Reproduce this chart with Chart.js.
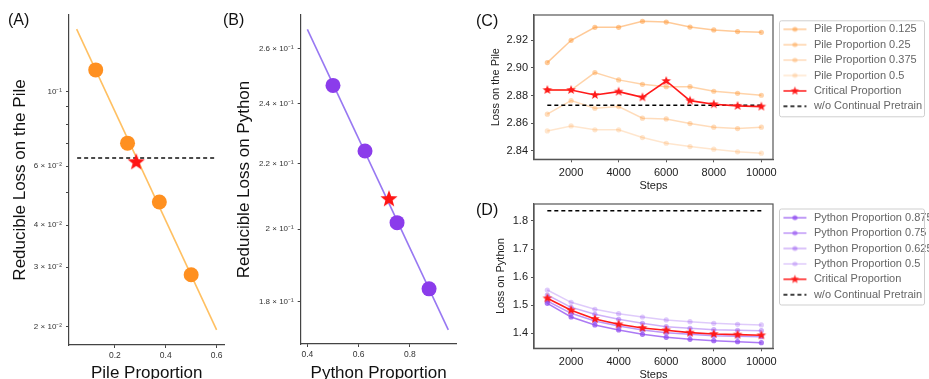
<!DOCTYPE html>
<html><head><meta charset="utf-8">
<script src="https://cdn.jsdelivr.net/npm/chart.js@4.4.1/dist/chart.umd.min.js"></script>
<style>
html,body{margin:0;padding:0;background:#fff;width:929px;height:379px;overflow:hidden;position:relative;font-family:"Liberation Sans",Arial,sans-serif;}
canvas{position:absolute;}
.lab{position:absolute;font-size:16px;line-height:16px;color:#111;white-space:nowrap;}
</style></head><body>
<canvas id="cA" width="232" height="395" style="left:0;top:0"></canvas>
<canvas id="cB" width="240" height="395" style="left:224px;top:0"></canvas>
<canvas id="cC" width="465" height="195" style="left:464px;top:0"></canvas>
<canvas id="cD" width="465" height="190" style="left:464px;top:195px"></canvas>
<div class="lab" style="left:8px;top:12px">(A)</div>
<div class="lab" style="left:223px;top:12px">(B)</div>
<div class="lab" style="left:476px;top:13px">(C)</div>
<div class="lab" style="left:476px;top:202px">(D)</div>
<script>
// ---------------- DATA ----------------
// Panel A
const pileProportions = [0.125, 0.25, 0.375, 0.5];
const pileReducibleLoss = [0.116, 0.0702, 0.0469, 0.0285];
const pileFitX = [0.05, 0.6];
const pileFitY = [0.1534, 0.01953];
const pileCriticalX = [0.284];
const pileCriticalY = [0.0616];
const pileBaselineX = [0.052, 0.593];
const pileBaselineY = [0.0634, 0.0634];
const pileXTicks = [0.2, 0.4, 0.6];
const pileYTicks = [0.02, 0.03, 0.04, 0.05, 0.06, 0.07, 0.08, 0.09, 0.1];
const pileYTickLabels = ['2 × 10⁻²', '3 × 10⁻²', '4 × 10⁻²', '', '6 × 10⁻²', '', '', '', '10⁻¹'];

// Panel B
const pythonProportions = [0.5, 0.625, 0.75, 0.875];
const pythonReducibleLoss = [0.2464, 0.2240, 0.2019, 0.1834];
const pythonFitX = [0.4, 0.95];
const pythonFitY = [0.2673, 0.1728];
const pythonCriticalX = [0.7185];
const pythonCriticalY = [0.2089];
const pythonXTicks = [0.4, 0.6, 0.8];
const pythonYTicks = [0.18, 0.2, 0.22, 0.24, 0.26];
const pythonYTickLabels = ['1.8 × 10⁻¹', '2 × 10⁻¹', '2.2 × 10⁻¹', '2.4 × 10⁻¹', '2.6 × 10⁻¹'];

// Panel C
const steps = [1000, 2000, 3000, 4000, 5000, 6000, 7000, 8000, 9000, 10000];
const stepTicks = [2000, 4000, 6000, 8000, 10000];
const pileLoss0125 = [2.9039, 2.9200, 2.9294, 2.9294, 2.9337, 2.9332, 2.9296, 2.9275, 2.9263, 2.9258];
const pileLoss025  = [2.8841, 2.8841, 2.8967, 2.8914, 2.8882, 2.8865, 2.8865, 2.8832, 2.8817, 2.8803];
const pileLoss0375 = [2.8666, 2.8764, 2.8709, 2.8721, 2.8637, 2.8632, 2.8598, 2.8572, 2.8562, 2.8572];
const pileLoss05   = [2.8545, 2.8581, 2.8553, 2.8553, 2.8497, 2.8456, 2.8432, 2.8413, 2.8394, 2.8384];
const pileLossCritical = [2.8841, 2.8841, 2.8805, 2.8829, 2.8788, 2.8906, 2.8764, 2.8738, 2.8726, 2.8721];
const pileNoContinual = 2.8731;
const pileLossTicks = [2.84, 2.86, 2.88, 2.90, 2.92];
const pileSeriesLabels = ['Pile Proportion 0.125', 'Pile Proportion 0.25', 'Pile Proportion 0.375', 'Pile Proportion 0.5'];

// Panel D
const pythonLoss0875 = [1.5068, 1.4581, 1.4297, 1.4119, 1.3964, 1.3857, 1.3786, 1.3739, 1.3703, 1.3667];
const pythonLoss075  = [1.5151, 1.4712, 1.4439, 1.4261, 1.4119, 1.4024, 1.3964, 1.3917, 1.3893, 1.3881];
const pythonLoss0625 = [1.5365, 1.4926, 1.4676, 1.4498, 1.4356, 1.4237, 1.4178, 1.4130, 1.4107, 1.4095];
const pythonLoss05   = [1.5543, 1.5104, 1.4854, 1.4700, 1.4581, 1.4475, 1.4415, 1.4356, 1.4320, 1.4297];
const pythonLossCritical = [1.5246, 1.4819, 1.4510, 1.4320, 1.4190, 1.4107, 1.4024, 1.3976, 1.3953, 1.3929];
const pythonNoContinual = 1.8367;
const pythonLossTicks = [1.4, 1.5, 1.6, 1.7, 1.8];
const pythonSeriesLabels = ['Python Proportion 0.875', 'Python Proportion 0.75', 'Python Proportion 0.625', 'Python Proportion 0.5'];
const criticalLabel = 'Critical Proportion';
const baselineLabel = 'w/o Continual Pretrain';

// ---------------- HELPERS ----------------
const FONT = '"Liberation Sans", Arial, sans-serif';
Chart.defaults.font.family = FONT;
const zip = (xs, ys) => xs.map((x, i) => ({x: x, y: ys[i]}));

function starCanvas(r, color) {
  const s = Math.ceil(r * 2 + 2);
  const c = document.createElement('canvas'); c.width = s; c.height = s;
  const g = c.getContext('2d'); g.fillStyle = color; g.beginPath();
  for (let i = 0; i < 10; i++) {
    const rad = i % 2 ? r * 0.42 : r;
    const a = -Math.PI / 2 + i * Math.PI / 5;
    const px = s / 2 + rad * Math.cos(a), py = s / 2 + rad * Math.sin(a);
    if (i) g.lineTo(px, py); else g.moveTo(px, py);
  }
  g.closePath(); g.fill();
  return c;
}
function legendIcon(color, marker, dashed) {
  const c = document.createElement('canvas'); c.width = 41; c.height = 12;
  const g = c.getContext('2d'); g.strokeStyle = color; g.lineWidth = 1.5;
  if (dashed) g.setLineDash([4, 3]);
  g.beginPath(); g.moveTo(11, 6); g.lineTo(34, 6); g.stroke(); g.setLineDash([]);
  if (marker === 'dot') { g.fillStyle = color; g.beginPath(); g.arc(22.5, 6, 2.5, 0, 2 * Math.PI); g.fill(); }
  if (marker === 'star') { const st = starCanvas(4.5, color); g.drawImage(st, 22.5 - st.width / 2, 6 - st.height / 2); }
  return c;
}
const fixY = w => s => { s.width = w; s.paddingTop = 0; s.paddingBottom = 0; };
const fixX = h => s => { s.height = h; s.paddingLeft = 0; s.paddingRight = 0; };
const setTicks = arr => s => { s.ticks = arr.map(v => ({value: v})); };

const framePlugin = {
  id: 'frame',
  afterDraw(chart, args, opts) {
    if (!opts || !opts.on) return;
    const {ctx, chartArea: a} = chart;
    ctx.save(); ctx.strokeStyle = '#555'; ctx.lineWidth = 1.2;
    ctx.strokeRect(a.left, a.top, a.right - a.left, a.bottom - a.top);
    const L = chart.legend;
    if (L) {
      ctx.strokeStyle = '#cfcfcf'; ctx.lineWidth = 1;
      const x = L.left + 6.5, y = L.top + opts.boxTop, w = 145, h = 96, r = 2;
      ctx.beginPath();
      ctx.moveTo(x + r, y); ctx.lineTo(x + w - r, y); ctx.arcTo(x + w, y, x + w, y + r, r);
      ctx.lineTo(x + w, y + h - r); ctx.arcTo(x + w, y + h, x + w - r, y + h, r);
      ctx.lineTo(x + r, y + h); ctx.arcTo(x, y + h, x, y + h - r, r);
      ctx.lineTo(x, y + r); ctx.arcTo(x, y, x + r, y, r); ctx.closePath(); ctx.stroke();
    }
    ctx.restore();
  }
};
Chart.register(framePlugin);

// ---------------- PANELS A & B ----------------
function proportionPanel(id, cfg) {
  const red = '#ff1414';
  new Chart(document.getElementById(id), {
    type: 'scatter',
    data: { datasets: [
      { data: zip(cfg.critX, cfg.critY), pointStyle: starCanvas(9, red), showLine: false, order: 0 },
      { data: zip(cfg.px, cfg.py), pointRadius: 7.5, pointBackgroundColor: cfg.pointColor, pointBorderWidth: 0, showLine: false, order: 1 },
      ...(cfg.baseX ? [{ data: zip(cfg.baseX, cfg.baseY), showLine: true, borderColor: '#111', borderWidth: 1.6, borderDash: [4, 3], pointRadius: 0, order: 2 }] : []),
      { data: zip(cfg.fitX, cfg.fitY), showLine: true, borderColor: cfg.lineColor, borderWidth: 1.6, pointRadius: 0, order: 3 }
    ]},
    options: {
      responsive: false, animation: false, events: [],
      layout: { padding: { left: 0, top: 15, right: cfg.padRight, bottom: 0 } },
      plugins: { legend: { display: false }, tooltip: { enabled: false } },
      scales: {
        x: { type: 'linear', min: cfg.xmin, max: cfg.xmax, afterBuildTicks: setTicks(cfg.xticks), afterFit: fixX(cfg.xh),
             ticks: { autoSkip: false, maxRotation: 0, font: { size: 8.5 }, color: '#333', padding: 3, callback: v => String(v) },
             grid: { drawOnChartArea: false, tickLength: 3, color: '#444' }, border: { color: '#444', width: 1.2 },
             title: { display: true, text: cfg.xtitle, font: { size: 17 }, color: '#111', padding: { top: 0, bottom: 11.8 } } },
        y: { type: 'logarithmic', min: cfg.ymin, max: cfg.ymax, afterBuildTicks: setTicks(cfg.yticks), afterFit: fixY(cfg.yw),
             ticks: { autoSkip: false, font: { size: 8 }, color: '#333', padding: 4, callback: (v, i) => cfg.ylabels[i] },
             grid: { drawOnChartArea: false, tickLength: 3, color: '#444' }, border: { color: '#444', width: 1.2 },
             title: { display: true, text: cfg.ytitle, font: { size: 17 }, color: '#111', padding: { top: 10, bottom: 0 } } }
      }
    }
  });
}
proportionPanel('cA', {
  px: pileProportions, py: pileReducibleLoss, fitX: pileFitX, fitY: pileFitY,
  critX: pileCriticalX, critY: pileCriticalY, baseX: pileBaselineX, baseY: pileBaselineY,
  pointColor: '#ff9020', lineColor: '#ffc062',
  xmin: 0.02, xmax: 0.631, ymin: 0.0176, ymax: 0.169, xticks: pileXTicks, yticks: pileYTicks, ylabels: pileYTickLabels,
  xtitle: 'Pile Proportion', ytitle: 'Reducible Loss on the Pile', padRight: 6, xh: 50, yw: 69
});
proportionPanel('cB', {
  px: pythonProportions, py: pythonReducibleLoss, fitX: pythonFitX, fitY: pythonFitY,
  critX: pythonCriticalX, critY: pythonCriticalY,
  pointColor: '#8b3ceb', lineColor: '#9878f2',
  xmin: 0.374, xmax: 0.982, ymin: 0.1693, ymax: 0.2729, xticks: pythonXTicks, yticks: pythonYTicks, ylabels: pythonYTickLabels,
  xtitle: 'Python Proportion', ytitle: 'Reducible Loss on Python', padRight: 7.3, xh: 51, yw: 76.7
});

// ---------------- PANELS C & D ----------------
function lossPanel(id, cfg) {
  const red = '#ff1a1a';
  const ds = cfg.series.map((vals, i) => ({
    label: cfg.labels[i], data: zip(steps, vals), showLine: true,
    borderColor: cfg.colors[i], borderWidth: 1.5, pointRadius: 2.6, pointBackgroundColor: cfg.colors[i], pointBorderWidth: 0,
    order: 2 + i, icon: legendIcon(cfg.colors[i], 'dot')
  }));
  ds.push({ label: criticalLabel, data: zip(steps, cfg.critical), showLine: true, borderColor: red, borderWidth: 1.6,
            pointStyle: starCanvas(5, red), order: 0, icon: legendIcon(red, 'star') });
  ds.push({ label: baselineLabel, data: zip([steps[0], steps[steps.length - 1]], [cfg.base, cfg.base]), showLine: true,
            borderColor: '#000', borderWidth: 1.6, borderDash: [4, 3], pointRadius: 0, order: 1, icon: legendIcon('#000', null, true) });
  new Chart(document.getElementById(id), {
    type: 'scatter',
    data: { datasets: ds },
    options: {
      responsive: false, animation: false, events: [],
      layout: { padding: { left: 0, top: cfg.padTop, right: 0, bottom: 0 } },
      plugins: {
        tooltip: { enabled: false },
        frame: { on: true, boxTop: cfg.boxTop },
        legend: {
          display: true, position: 'right', align: 'start', maxWidth: 156,
          title: { display: true, text: '', font: { size: 4, lineHeight: cfg.legTitleLH }, padding: 0 },
          labels: {
            usePointStyle: true, pointStyleWidth: 31, padding: 4.4, color: '#222', font: { size: 11 },
            generateLabels: chart => chart.data.datasets.map((d, i) => ({
              text: d.label, pointStyle: d.icon, fillStyle: 'rgba(0,0,0,0)', strokeStyle: 'rgba(0,0,0,0)',
              lineWidth: 0, hidden: false, datasetIndex: i }))
          }
        }
      },
      scales: {
        x: { type: 'linear', min: 440, max: 10490, afterBuildTicks: setTicks(stepTicks), afterFit: fixX(cfg.xh),
             ticks: { autoSkip: false, maxRotation: 0, font: { size: 11 }, color: '#222', padding: 4, callback: v => String(v) },
             grid: { drawOnChartArea: false, tickLength: 3, color: '#555' }, border: { color: '#555', width: 1.2 },
             title: { display: true, text: 'Steps', font: { size: 11 }, color: '#222', padding: { top: 0, bottom: cfg.xTitlePad } } },
        y: { type: 'linear', min: cfg.ymin, max: cfg.ymax, afterBuildTicks: setTicks(cfg.yticks), afterFit: fixY(70),
             ticks: { autoSkip: false, font: { size: 11 }, color: '#222', padding: 3, callback: v => v.toFixed(cfg.dec) },
             grid: { drawOnChartArea: false, tickLength: 3, color: '#555' }, border: { color: '#555', width: 1.2 },
             title: { display: true, text: cfg.ytitle, font: { size: 11 }, color: '#222', padding: { top: cfg.yTitlePad, bottom: 0 } } }
      }
    }
  });
}
lossPanel('cC', {
  series: [pileLoss0125, pileLoss025, pileLoss0375, pileLoss05], critical: pileLossCritical, base: pileNoContinual,
  labels: pileSeriesLabels,
  colors: ['rgba(255,150,50,0.50)', 'rgba(255,150,50,0.42)', 'rgba(255,150,50,0.33)', 'rgba(255,150,50,0.24)'],
  ymin: 2.834, ymax: 2.9383, yticks: pileLossTicks, dec: 2, ytitle: 'Loss on the Pile',
  padTop: 15, xh: 35.7, xTitlePad: 2.4, yTitlePad: 25.1, legTitleLH: 1.1, boxTop: 5.8
});
lossPanel('cD', {
  series: [pythonLoss0875, pythonLoss075, pythonLoss0625, pythonLoss05], critical: pythonLossCritical, base: pythonNoContinual,
  labels: pythonSeriesLabels,
  colors: ['rgba(140,70,240,0.72)', 'rgba(140,70,240,0.56)', 'rgba(140,70,240,0.42)', 'rgba(140,70,240,0.28)'],
  ymin: 1.3466, ymax: 1.8605, yticks: pythonLossTicks, dec: 1, ytitle: 'Loss on Python',
  padTop: 9, xh: 36.7, xTitlePad: 3.4, yTitlePad: 30.4, legTitleLH: 0.95, boxTop: 5.0
});
</script>
</body></html>
